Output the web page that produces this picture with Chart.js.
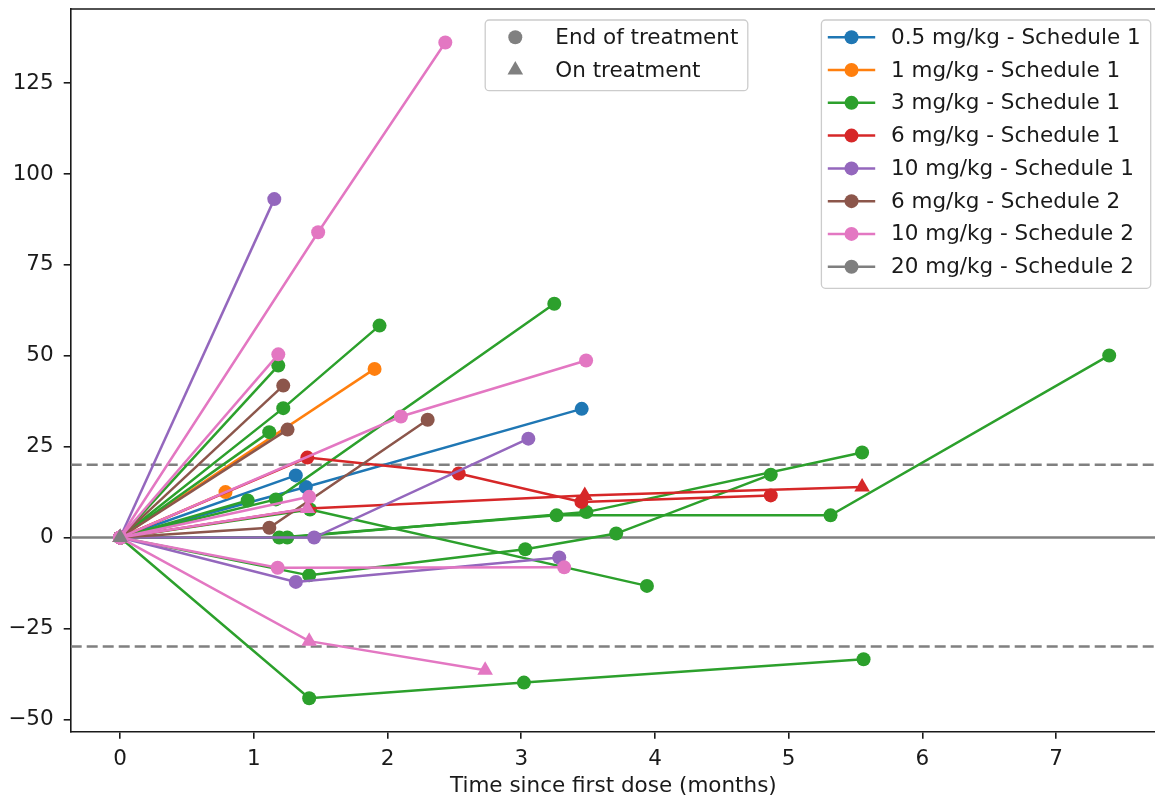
<!DOCTYPE html>
<html>
<head>
<meta charset="utf-8">
<script src="https://cdn.jsdelivr.net/npm/chart.js@4/dist/chart.umd.min.js"></script>
<style>
  html, body { margin: 0; padding: 0; background: #fff; overflow: hidden; }
  #wrap { width: 1165px; height: 799px; position: relative; }
</style>
</head>
<body>
<div id="wrap"><canvas id="spider"></canvas></div>
<script>
// ---- data ----
var groupLabels = ['0.5 mg/kg - Schedule 1', '1 mg/kg - Schedule 1', '3 mg/kg - Schedule 1',
  '6 mg/kg - Schedule 1', '10 mg/kg - Schedule 1', '6 mg/kg - Schedule 2',
  '10 mg/kg - Schedule 2', '20 mg/kg - Schedule 2'];
var groupColors = ['#1f77b4', '#ff7f0e', '#2ca02c', '#d62728', '#9467bd', '#8c564b', '#e377c2', '#7f7f7f'];

// one entry per patient
var patientGroup = [0, 0, 1, 1, 2, 2, 2, 2, 2, 2, 2, 2, 2, 2, 3, 3, 4, 4, 4, 5, 5, 5, 6, 6, 6, 6, 6, 6, 6, 7];
var patientMonths = [
  [0, 1.314], [0, 1.389, 3.452],
  [0, 1.903], [0, 0.788],
  [0, 1.414, 3.03, 3.71, 4.866], [0, 1.19, 3.264, 5.313, 7.397], [0, 1.25, 3.487, 5.549],
  [0, 1.42, 3.94], [0, 1.22, 1.94], [0, 1.183], [0, 1.115], [0, 1.165, 3.247], [0, 0.954],
  [0, 1.414, 3.02, 5.56],
  [0, 1.40, 2.532, 3.45, 4.866], [0, 1.41, 3.475, 5.549],
  [0, 1.153], [0, 1.451, 3.053], [0, 1.314, 3.284],
  [0, 1.22], [0, 1.252], [0, 1.116, 2.30],
  [0, 1.481, 2.432], [0, 1.183], [0, 2.10, 3.485], [0, 1.414], [0, 1.40], [0, 1.178, 3.321], [0, 1.414, 2.73],
  [0]
];
var patientChange = [
  [0, 17.1], [0, 13.9, 35.4],
  [0, 46.4], [0, 12.5],
  [0, -10.4, -3.2, 1.1, 17.3], [0, 0, 6.1, 6.1, 50.1], [0, 0, 7.0, 23.4],
  [0, 7.7, -13.3], [0, 35.6, 58.3], [0, 47.3], [0, 29.0], [0, 10.5, 64.3], [0, 10.2],
  [0, -44.2, -39.9, -33.5],
  [0, 22.0, 17.6, 9.8, 11.6], [0, 8.0, 11.6, 13.9],
  [0, 93.1], [0, 0, 27.2], [0, -12.2, -5.5],
  [0, 41.8], [0, 29.7], [0, 2.7, 32.4],
  [0, 84.0, 136.2], [0, 50.4], [0, 33.3, 48.7], [0, 11.2], [0, 8.0], [0, -8.3, -8.2], [0, -28.5, -36.5],
  [0]
];
var patientOnTreatment = [false, false, false, false, false, false, false, false, false, false, false,
  false, false, false, false, true, false, false, false, false, false, false, false, false, false,
  false, true, false, true, true];

var xTicks = [0, 1, 2, 3, 4, 5, 6, 7];
var yTicks = [-50, -25, 0, 25, 50, 75, 100, 125];
var thresholdLines = [20, -30];
var statusLabels = ['End of treatment', 'On treatment'];

var FONT = "'DejaVu Sans', sans-serif";
var FSIZE = 21.5;
var INK = '#1a1a1a';
var LW = 2.5, DOT = 7, TRI = 9;

// ---- build datasets (one line per patient) ----
var datasets = patientMonths.map(function (xs, i) {
  var c = groupColors[patientGroup[i]];
  var tri = patientOnTreatment[i];
  return {
    label: groupLabels[patientGroup[i]],
    data: xs.map(function (x, j) { return { x: x, y: patientChange[i][j] }; }),
    borderColor: c,
    backgroundColor: c,
    pointBackgroundColor: c,
    pointBorderColor: c,
    borderWidth: LW,
    pointBorderWidth: 0,
    pointStyle: tri ? 'triangle' : 'circle',
    pointRadius: tri ? TRI : DOT,
    pointHoverRadius: tri ? TRI : DOT,
    tension: 0,
    fill: false,
    order: patientMonths.length - i
  };
});

var refLinesPlugin = {
  id: 'refLines',
  beforeDatasetsDraw: function (chart) {
    var ctx = chart.ctx, a = chart.chartArea, y = chart.scales.y;
    ctx.save();
    ctx.beginPath();
    ctx.rect(a.left, a.top, a.right - a.left, a.bottom - a.top);
    ctx.clip();
    ctx.strokeStyle = '#808080';
    ctx.lineWidth = LW;
    var py = y.getPixelForValue(0);
    ctx.beginPath(); ctx.moveTo(a.left, py); ctx.lineTo(a.right, py); ctx.stroke();
    ctx.setLineDash([11, 5]);
    thresholdLines.forEach(function (v) {
      var p = y.getPixelForValue(v);
      ctx.beginPath(); ctx.moveTo(a.left, p); ctx.lineTo(a.right, p); ctx.stroke();
    });
    ctx.restore();
  }
};

function roundBox(ctx, x0, y0, x1, y1, r) {
  ctx.beginPath();
  ctx.moveTo(x0 + r, y0);
  ctx.lineTo(x1 - r, y0); ctx.arcTo(x1, y0, x1, y0 + r, r);
  ctx.lineTo(x1, y1 - r); ctx.arcTo(x1, y1, x1 - r, y1, r);
  ctx.lineTo(x0 + r, y1); ctx.arcTo(x0, y1, x0, y1 - r, r);
  ctx.lineTo(x0, y0 + r); ctx.arcTo(x0, y0, x0 + r, y0, r);
  ctx.closePath();
  ctx.fillStyle = 'rgba(255,255,255,0.8)';
  ctx.fill();
  ctx.strokeStyle = '#cccccc';
  ctx.lineWidth = 1.3;
  ctx.stroke();
}

function marker(ctx, style, x, y, r, color) {
  ctx.fillStyle = color;
  ctx.beginPath();
  if (style === 'triangle') {
    var ang = 0;
    for (var k = 0; k < 3; k++) {
      var px = x + Math.sin(ang) * r, py = y - Math.cos(ang) * r;
      if (k === 0) ctx.moveTo(px, py); else ctx.lineTo(px, py);
      ang += Math.PI * 2 / 3;
    }
    ctx.closePath();
  } else {
    ctx.arc(x, y, r, 0, Math.PI * 2);
  }
  ctx.fill();
}

var framePlugin = {
  id: 'frameAndLegends',
  afterDraw: function (chart) {
    var ctx = chart.ctx, a = chart.chartArea;
    ctx.save();
    // top and right spines
    ctx.strokeStyle = INK;
    ctx.lineWidth = 1.6;
    ctx.beginPath();
    ctx.moveTo(a.left, a.top); ctx.lineTo(a.right, a.top); ctx.lineTo(a.right, a.bottom);
    ctx.stroke();

    ctx.font = FSIZE + 'px ' + FONT;
    ctx.textBaseline = 'middle';
    ctx.textAlign = 'left';

    // status legend
    roundBox(ctx, 485.2, 20, 747.8, 90.7, 4);
    var statusRows = [37.3, 70];
    statusLabels.forEach(function (t, i) {
      marker(ctx, i === 0 ? 'circle' : 'triangle', 515.3, statusRows[i], i === 0 ? DOT : TRI, '#808080');
      ctx.fillStyle = INK;
      ctx.fillText(t, 555.3, statusRows[i] + 1);
    });

    // dose legend
    roundBox(ctx, 821.4, 20, 1150.7, 288.3, 4);
    groupLabels.forEach(function (t, i) {
      var ry = 37.3 + i * 32.77;
      ctx.strokeStyle = groupColors[i];
      ctx.lineWidth = LW;
      ctx.beginPath(); ctx.moveTo(827.8, ry); ctx.lineTo(875.2, ry); ctx.stroke();
      marker(ctx, 'circle', 851.5, ry, DOT, groupColors[i]);
      ctx.fillStyle = INK;
      ctx.fillText(t, 891, ry + 1);
    });
    ctx.restore();
  }
};

function minusSign(v) { return String(v).replace('-', '\u2212'); }

new Chart(document.getElementById('spider'), {
  type: 'line',
  data: { datasets: datasets },
  plugins: [refLinesPlugin, framePlugin],
  options: {
    responsive: true,
    maintainAspectRatio: false,
    animation: false,
    events: [],
    layout: { padding: { left: 0, top: 8, right: 5, bottom: 0 } },
    plugins: { legend: { display: false }, tooltip: { enabled: false } },
    scales: {
      x: {
        type: 'linear',
        min: -0.3696,
        max: 7.747,
        afterBuildTicks: function (s) { s.ticks = xTicks.map(function (v) { return { value: v }; }); },
        afterFit: function (s) { s.height = 67.3; s.paddingLeft = 0; s.paddingRight = 0; },
        grid: { drawOnChartArea: false, drawTicks: true, tickLength: 7, color: INK, lineWidth: 1.6 },
        border: { display: true, color: INK, width: 1.6 },
        ticks: { color: INK, font: { family: FONT, size: FSIZE }, padding: 8, maxRotation: 0,
          callback: minusSign },
        title: { display: true, text: 'Time since first dose (months)', color: INK,
          font: { family: FONT, size: FSIZE }, padding: { top: 0, bottom: 0 } }
      },
      y: {
        type: 'linear',
        min: -53.41,
        max: 145.4,
        afterBuildTicks: function (s) { s.ticks = yTicks.map(function (v) { return { value: v }; }); },
        afterFit: function (s) { s.width = 70.7; s.paddingTop = 0; s.paddingBottom = 0; },
        grid: { drawOnChartArea: false, drawTicks: true, tickLength: 7, color: INK, lineWidth: 1.6 },
        border: { display: true, color: INK, width: 1.6 },
        ticks: { color: INK, font: { family: FONT, size: FSIZE }, padding: 10, callback: minusSign }
      }
    }
  }
});
</script>
</body>
</html>
